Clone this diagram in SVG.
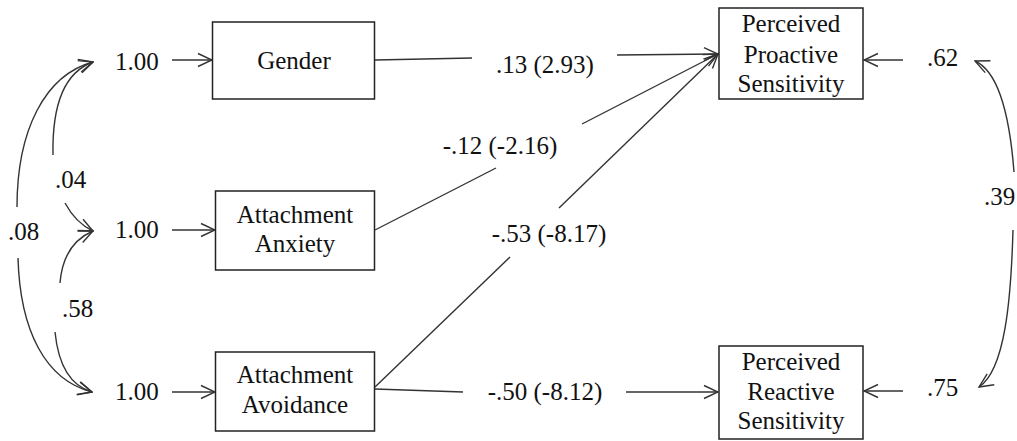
<svg xmlns="http://www.w3.org/2000/svg" width="1017" height="441" viewBox="0 0 1017 441">
<defs>
<marker id="arr" viewBox="0 0 16 16" refX="15" refY="8" markerWidth="16" markerHeight="16" markerUnits="userSpaceOnUse" orient="auto">
<path d="M1,1.5 L15,8 L1,14.5" fill="none" stroke="#333" stroke-width="1.4"/>
</marker>
</defs>
<style>
text{font-family:"Liberation Serif","Times New Roman",serif;font-size:25px;fill:#111}
.c{text-anchor:middle}
.box{fill:#fff;stroke:#222;stroke-width:1.5}
.ln{fill:none;stroke:#333;stroke-width:1.4}
.ar{fill:none;stroke:#333;stroke-width:1.4;marker-end:url(#arr)}
</style>
<rect width="1017" height="441" fill="#fff"/>
<g id="connectors">
<path class="ar" d="M172,60 L212,60"/>
<path class="ar" d="M172,230 L215,230"/>
<path class="ar" d="M172,392 L215,392"/>
<path class="ar" d="M17,207 C17,130 45,75 93,62"/>
<path class="ar" d="M53,155 C52,105 65,72 93,62"/>
<path class="ar" d="M65,203 C72,216 80,225 93,231"/>
<path class="ar" d="M60,283 C62,258 72,240 93,231"/>
<path class="ar" d="M55,332 C58,362 68,385 92,392"/>
<path class="ar" d="M18,258 C20,330 45,380 92,392"/>
<path class="ln" d="M375,60 L472,58"/>
<path class="ar" d="M617,55 L718,54"/>
<path class="ln" d="M375,230 L496,168"/>
<path class="ar" d="M582,124 L718,54"/>
<path class="ln" d="M375,387 L510,257"/>
<path class="ar" d="M559,208 L718,54"/>
<path class="ln" d="M375,389 L463,392"/>
<path class="ar" d="M626,392 L718,392"/>
<path class="ar" d="M903,60 L864,60"/>
<path class="ar" d="M903,391 L864,391"/>
<path class="ar" d="M1014,172 C1010,120 1000,72 975,61"/>
<path class="ar" d="M1013,230 C1011,300 1005,370 979,387"/>
</g>
<g id="labels">
<text x="115" y="70">1.00</text>
<text x="115" y="238">1.00</text>
<text x="115" y="400">1.00</text>
<text x="55" y="188">.04</text>
<text x="8" y="240">.08</text>
<text x="62" y="317">.58</text>
<text x="927" y="66">.62</text>
<text x="927" y="396">.75</text>
<text x="984" y="205">.39</text>
<text class="c" x="545" y="73">.13 (2.93)</text>
<text class="c" x="500" y="154">-.12 (-2.16)</text>
<text class="c" x="549" y="242">-.53 (-8.17)</text>
<text class="c" x="545" y="400">-.50 (-8.12)</text>
</g>
<g id="gender">
<rect class="box" x="212.5" y="22" width="162" height="77"/>
<text class="c" x="294" y="69">Gender</text>
</g>
<g id="anxiety">
<rect class="box" x="215.5" y="191" width="159" height="79"/>
<text class="c" x="295" y="223">Attachment</text>
<text class="c" x="295" y="252">Anxiety</text>
</g>
<g id="avoidance">
<rect class="box" x="215.5" y="352" width="159" height="79"/>
<text class="c" x="295" y="383">Attachment</text>
<text class="c" x="295" y="413">Avoidance</text>
</g>
<g id="proactive">
<rect class="box" x="719" y="8" width="144" height="91"/>
<text class="c" x="791" y="32">Perceived</text>
<text class="c" x="791" y="63">Proactive</text>
<text class="c" x="791" y="92">Sensitivity</text>
</g>
<g id="reactive">
<rect class="box" x="719" y="346" width="144" height="93"/>
<text class="c" x="791" y="370">Perceived</text>
<text class="c" x="791" y="400">Reactive</text>
<text class="c" x="791" y="429">Sensitivity</text>
</g>
</svg>
